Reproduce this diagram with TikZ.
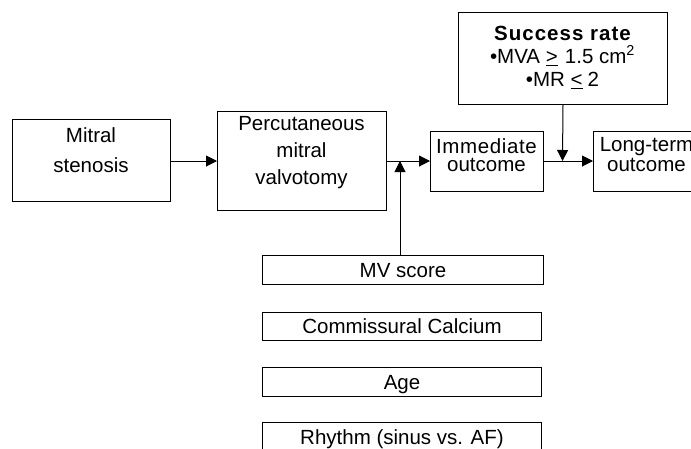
\documentclass[tikz,border=0pt]{standalone}
\usepackage{fontspec}
\setmainfont{Liberation Sans}
\newfontfamily\srfont[LetterSpace=5]{Liberation Sans}
\newfontfamily\imfont[LetterSpace=3]{Liberation Sans}
\usetikzlibrary{arrows.meta}
\begin{document}
\begin{tikzpicture}[x=1pt,y=-1pt,
  box/.style={draw, line width=1pt, inner sep=0pt, anchor=north west},
  txt/.style={inner sep=0pt, align=center},
  arr/.style={line width=1pt, -{Triangle[length=11pt,width=11pt]}},
  fs/.style={font=\fontsize{20.5pt}{#1pt}\selectfont}]
\useasboundingbox (0,0) rectangle (691,448);
\clip (0,0) rectangle (691,448);
% main chain
\node[box, minimum width=158pt, minimum height=82pt] (ms) at (12,119) {};
\node[txt, fs=30] (mst) at (91,150.5) {Mitral\\stenosis};
\node[box, minimum width=169pt, minimum height=99pt] (pmv) at (217,111) {};
\node[txt, fs=27] (pmvt) at (301.5,153) {Percutaneous\\mitral\\valvotomy};
\node[box, minimum width=113pt, minimum height=60pt] (imm) at (430,131) {};
\node[txt, fs=18] (immt) at (486.5,155) {{\imfont Immediate}\\outcome};
\node[box, minimum width=107pt, minimum height=60pt] (lt) at (593,131) {};
\node[txt, fs=20] (ltt) at (646.5,155) {Long-term\\outcome};
% success rate
\node[box, minimum width=209pt, minimum height=92pt] (sr) at (458,12) {};
\node[txt, fs=23, anchor=north] (srt) at (562.5,26)
  {{\srfont\bfseries Success rate}\\
   •MVA $\underline{\hbox{>}}$\hspace{0.35em}1.5 cm\textsuperscript{2}\\
   •MR $\underline{\hbox{<}}$\hspace{0.25em}2};
% factors
\node[box, minimum width=281pt, minimum height=29pt, fs=30, text depth=0pt] (mv) at (262,255) {MV score};
\node[box, minimum width=279pt, minimum height=28pt, fs=30, text depth=0pt] (cc) at (262,312) {Commissural Calcium};
\node[box, minimum width=279pt, minimum height=29pt, fs=30, text depth=0pt] (age) at (262,367) {Age};
\node[box, minimum width=279pt, minimum height=29pt, fs=30, text depth=0pt] (rh) at (262,422) {Rhythm (sinus vs. AF)};
% connectors
\coordinate (j1) at (400,161);
\coordinate (j2) at (562.5,161);
\draw[arr] (ms.east |- 0,161) -- (pmv.west |- 0,161);
\draw[arr] (pmv.east |- 0,161) -- (imm.west |- 0,161);
\draw[arr] (imm.east |- 0,161) -- (lt.west |- 0,161);
\draw[arr] (mv.north -| j1) -- (j1);
\draw[arr] (sr.south) -- (j2);
\end{tikzpicture}
\end{document}
